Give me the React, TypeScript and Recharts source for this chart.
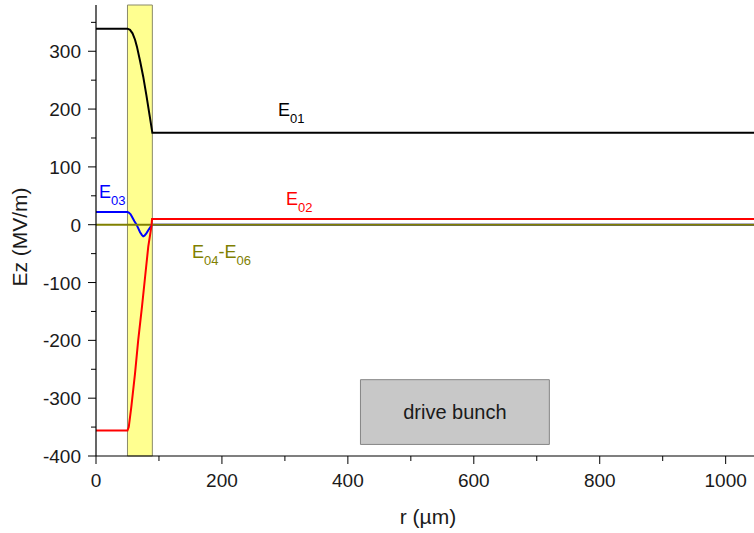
import React from "react";
import { LineChart, Line, XAxis, YAxis, ReferenceArea } from "recharts";

// radial field profiles Ez(r) for the modes, r in µm, Ez in MV/m
const R_MAX = 1045;

const e01R = [0, 50, 54, 58, 62, 65, 70, 75, 80, 85, 89.5, R_MAX];
const e01Ez = [339, 339, 337, 331, 320, 308, 283, 256, 224, 190, 159, 159];

const e02R = [0, 50, 52, 56, 62, 67, 73, 78, 83, 88, 89, R_MAX];
const e02Ez = [-356, -356, -350, -316, -257, -200, -142, -90, -38, -3, 10, 10];

const e03R = [0, 50, 52, 55, 58, 61, 64, 67, 70, 73, 75, 77, 80, 84, 89, R_MAX];
const e03Ez = [22, 22, 21, 18, 12, 6, 1, -6, -13, -18, -20, -19, -15, -8, 0, 0];

const e04R = [0, R_MAX];
const e04Ez = [0, 0];

const xTicks = [0, 100, 200, 300, 400, 500, 600, 700, 800, 900, 1000];
const yTicks = [-400, -350, -300, -250, -200, -150, -100, -50, 0, 50, 100, 150, 200, 250, 300, 350];

// dielectric layer and drive bunch extents
const layerR = [50, 89.5];
const bunchR = [420, 720];
const bunchEz = [-380, -268];

const toPoints = (r: number[], ez: number[]) => r.map((v, i) => ({ r: v, ez: ez[i] }));

const FONT = "'Liberation Sans', Arial, sans-serif";
const INK = "#1a1a1a";

const XTick = (props: any) => {
  const { x, y, payload } = props;
  const major = payload.value % 200 === 0;
  return (
    <g>
      <line x1={x} y1={y} x2={x} y2={y + (major ? 8 : 5)} stroke="#000" />
      {major && (
        <text x={x} y={y + 31} textAnchor="middle" fontSize={19} fontFamily={FONT} fill={INK}>
          {payload.value}
        </text>
      )}
    </g>
  );
};

const YTick = (props: any) => {
  const { x, y, payload } = props;
  const major = payload.value % 100 === 0;
  return (
    <g>
      <line x1={x} y1={y} x2={x - (major ? 8 : 5)} y2={y} stroke="#000" />
      {major && (
        <text x={x - 15} y={y + 7} textAnchor="end" fontSize={19} fontFamily={FONT} fill={INK}>
          {payload.value}
        </text>
      )}
    </g>
  );
};

const Sub = ({ children }: { children: React.ReactNode }) => (
  <tspan fontSize={13} dy={7}>
    {children}
  </tspan>
);

export default function App() {
  return (
    <div style={{ position: "absolute", left: 0, top: 0, width: 754, height: 533 }}>
      <LineChart width={754} height={533} margin={{ top: 5, right: 0, bottom: 37, left: 36 }}>
        <ReferenceArea
          x1={layerR[0]}
          x2={layerR[1]}
          fill="#ffff90"
          fillOpacity={1}
          stroke="#8a8a6a"
          strokeWidth={1}
        />
        <ReferenceArea
          x1={bunchR[0]}
          x2={bunchR[1]}
          y1={bunchEz[0]}
          y2={bunchEz[1]}
          fill="#c8c8c8"
          fillOpacity={1}
          stroke="#858585"
          strokeWidth={1}
          label={{ value: "drive bunch", position: "center", fill: INK, fontSize: 20, fontFamily: FONT }}
        />
        <XAxis
          dataKey="r"
          type="number"
          domain={[0, R_MAX]}
          ticks={xTicks}
          interval={0}
          height={40}
          tickSize={0}
          tickMargin={0}
          tickLine={false}
          tick={<XTick />}
          axisLine={{ stroke: "#000", strokeWidth: 1.2 }}
          allowDataOverflow
        />
        <YAxis
          dataKey="ez"
          type="number"
          domain={[-400, 380]}
          ticks={yTicks}
          interval={0}
          width={60}
          tickSize={0}
          tickMargin={0}
          tickLine={false}
          tick={<YTick />}
          axisLine={{ stroke: "#000", strokeWidth: 1.2 }}
          allowDataOverflow
        />
        <Line data={toPoints(e03R, e03Ez)} dataKey="ez" stroke="#0000ff" strokeWidth={2} dot={false} isAnimationActive={false} />
        <Line data={toPoints(e04R, e04Ez)} dataKey="ez" stroke="#808000" strokeWidth={2} dot={false} isAnimationActive={false} />
        <Line data={toPoints(e02R, e02Ez)} dataKey="ez" stroke="#ff0000" strokeWidth={2} dot={false} isAnimationActive={false} />
        <Line data={toPoints(e01R, e01Ez)} dataKey="ez" stroke="#000000" strokeWidth={2} dot={false} isAnimationActive={false} />
      </LineChart>
      <svg
        width={754}
        height={533}
        style={{ position: "absolute", left: 0, top: 0, pointerEvents: "none" }}
        fontFamily={FONT}
      >
        <text x={278} y={116} fontSize={18} fill="#000">
          E<Sub>01</Sub>
        </text>
        <text x={286} y={205} fontSize={18} fill="#ff0000">
          E<Sub>02</Sub>
        </text>
        <text x={99} y={198} fontSize={18} fill="#0000ff">
          E<Sub>03</Sub>
        </text>
        <text x={192} y={258} fontSize={18} fill="#808000">
          E<Sub>04</Sub>
          <tspan dy={-7}>-E</tspan>
          <Sub>06</Sub>
        </text>
        <text
          x={27}
          y={237}
          fontSize={21}
          fill={INK}
          textAnchor="middle"
          transform="rotate(-90 27 237)"
        >
          Ez (MV/m)
        </text>
        <text x={428} y={524} fontSize={21} fill={INK} textAnchor="middle">
          r (µm)
        </text>
      </svg>
    </div>
  );
}
